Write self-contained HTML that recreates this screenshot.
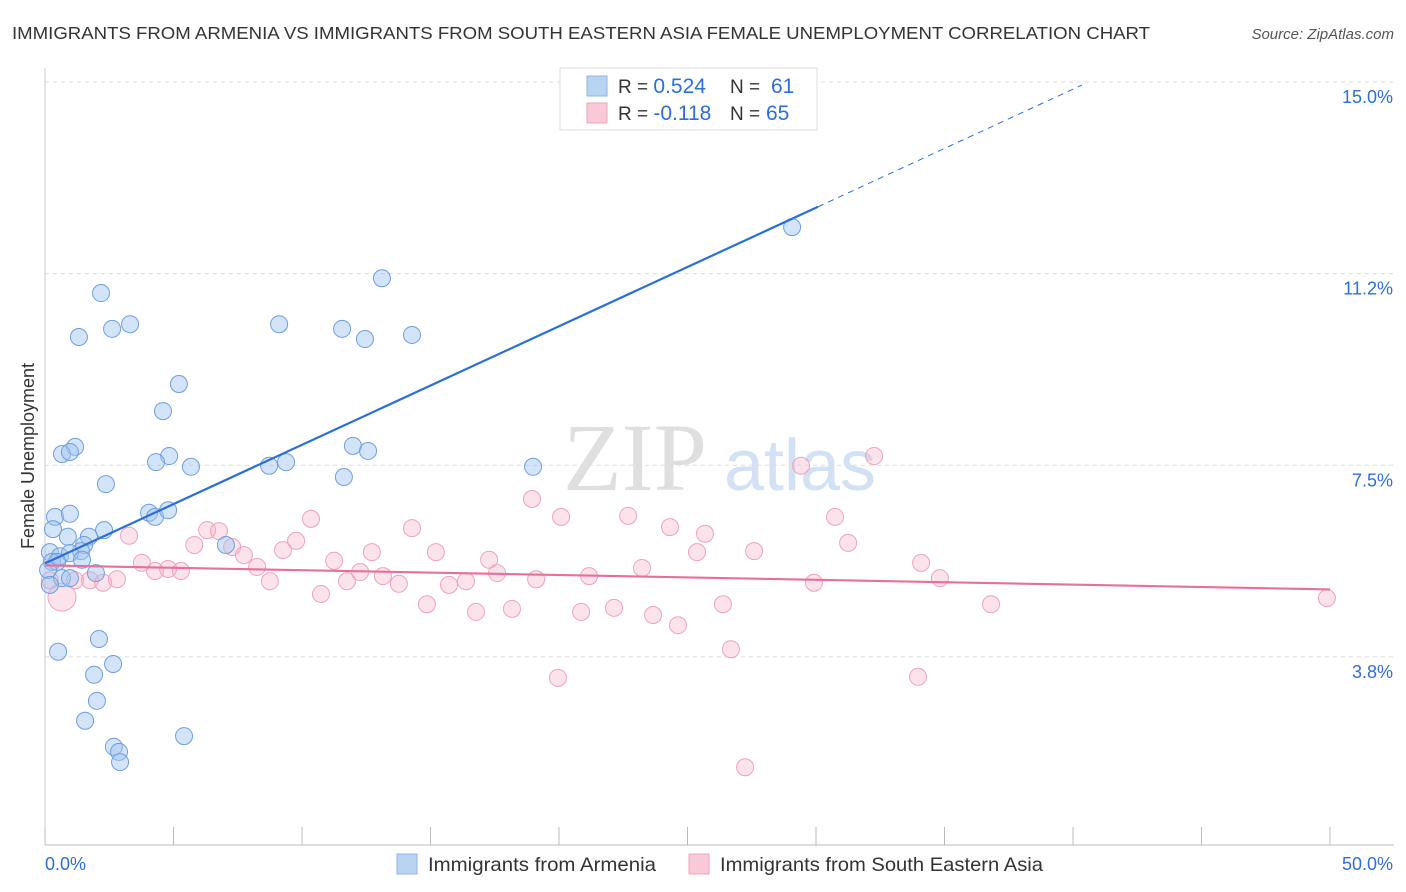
<!DOCTYPE html>
<html><head><meta charset="utf-8">
<style>
body{margin:0;background:#fff;font-family:"Liberation Sans",sans-serif;}
#wrap{position:relative;width:1406px;height:892px;overflow:hidden;}
</style></head>
<body>
<div id="wrap">
<svg id="chart" width="1406" height="892" xmlns="http://www.w3.org/2000/svg">
<text x="12" y="39" font-size="17.5" fill="#333" textLength="1138" lengthAdjust="spacingAndGlyphs">IMMIGRANTS FROM ARMENIA VS IMMIGRANTS FROM SOUTH EASTERN ASIA FEMALE UNEMPLOYMENT CORRELATION CHART</text>
<text x="1394" y="39" font-size="15" fill="#555" font-style="italic" text-anchor="end">Source: ZipAtlas.com</text>
<g opacity="0.8">
<text x="635" y="490" font-family="Liberation Serif,serif" font-size="96" fill="#d8d8d8" text-anchor="middle">ZIP</text>
<text x="800" y="490" font-size="72" fill="#c8dcf2" text-anchor="middle">atlas</text>
</g>
<g id="grid"></g>
<g id="axes"></g>
<g id="marks"></g>
<text transform="translate(34,456) rotate(-90)" font-size="18" fill="#333" text-anchor="middle">Female Unemployment</text>
<g>
<rect x="560" y="68" width="257" height="62" fill="#fff" stroke="#ddd"/>
<rect x="587" y="76" width="20" height="20" fill="#b9d3f3" stroke="#8fb4e6"/>
<rect x="587" y="103" width="20" height="20" fill="#f9c9d7" stroke="#f0a6bc"/>
<text x="618" y="93" font-size="19" fill="#333">R = <tspan fill="#2d6fd6" font-size="21">0.524</tspan><tspan x="730">N = </tspan><tspan fill="#2d6fd6" x="771" font-size="21">61</tspan></text>
<text x="618" y="120" font-size="19" fill="#333">R = <tspan fill="#2d6fd6" font-size="21">-0.118</tspan><tspan x="730">N = </tspan><tspan fill="#2d6fd6" x="766" font-size="21">65</tspan></text>
</g>
<g>
<rect x="397" y="854" width="20" height="20" fill="#b9d3f3" stroke="#8fb4e6"/>
<text x="428" y="871" font-size="19.5" fill="#333" textLength="228" lengthAdjust="spacingAndGlyphs">Immigrants from Armenia</text>
<rect x="689" y="854" width="20" height="20" fill="#f9c9d7" stroke="#f0a6bc"/>
<text x="720" y="871" font-size="19.5" fill="#333" textLength="323" lengthAdjust="spacingAndGlyphs">Immigrants from South Eastern Asia</text>
</g>
</svg>
</div>
<script>
const yTicks=[15.0,11.25,7.5,3.75];
const yTickLabels=["15.0%","11.2%","7.5%","3.8%"];
const xTicks=[0,5,10,15,20,25,30,35,40,45,50];
const xEndLabels=["0.0%","50.0%"];
const armeniaX=[2.18,1.32,2.61,3.31,5.21,4.59,13.11,9.11,11.56,12.45,14.28,29.07,1.17,0.66,0.97,4.83,4.32,5.68,8.72,9.38,11.98,12.57,11.63,18.99,2.37,4.05,4.28,4.79,0.39,0.97,0.31,2.30,0.89,1.71,1.52,1.40,7.04,0.19,0.58,0.97,0.27,1.44,0.47,0.12,0.66,0.97,1.98,0.19,2.10,0.51,2.65,1.91,2.02,1.56,2.68,2.88,2.92,5.41];
const armeniaY=[10.87,10.01,10.17,10.26,9.09,8.56,11.16,10.26,10.17,9.97,10.05,12.16,7.86,7.72,7.76,7.68,7.56,7.47,7.49,7.56,7.88,7.78,7.27,7.47,7.13,6.57,6.49,6.62,6.49,6.55,6.25,6.23,6.10,6.10,5.94,5.82,5.94,5.80,5.72,5.78,5.61,5.65,5.61,5.45,5.29,5.29,5.39,5.16,4.10,3.85,3.61,3.40,2.89,2.50,1.99,1.89,1.69,2.20];
const seaX=[0.66,0.19,1.17,1.75,2.26,2.80,3.27,3.77,4.28,4.79,5.29,5.81,6.31,6.77,7.28,7.74,8.25,8.75,9.26,9.77,10.35,10.74,11.25,11.75,12.26,12.72,13.15,13.77,14.28,14.86,15.21,15.72,16.38,16.77,17.28,17.59,18.17,18.95,19.11,19.96,20.08,20.86,21.17,22.14,22.69,23.23,23.66,24.32,24.63,25.37,25.68,26.38,26.69,27.24,27.59,29.42,29.92,30.74,31.25,32.26,33.97,34.09,34.82,36.81,49.88];
const seaY=[4.92,5.25,5.25,5.25,5.20,5.27,6.12,5.59,5.43,5.47,5.43,5.94,6.23,6.21,5.90,5.74,5.51,5.23,5.84,6.02,6.45,4.98,5.63,5.23,5.41,5.80,5.33,5.18,6.27,4.78,5.80,5.16,5.23,4.63,5.65,5.39,4.69,6.84,5.27,3.34,6.49,4.63,5.33,4.71,6.51,5.49,4.57,6.29,4.37,5.80,6.16,4.78,3.90,1.59,5.82,7.49,5.20,6.49,5.98,7.68,3.36,5.59,5.29,4.78,4.90];
const armeniaTrend=[5.58,0.232];
const seaTrend=[5.54,-0.0094];

const NS="http://www.w3.org/2000/svg";
const X=v=>45+v*1285/50;
const Y=v=>82+(15-v)*51.1;
function mk(tag,attrs,parent){const e=document.createElementNS(NS,tag);for(const k in attrs)e.setAttribute(k,attrs[k]);parent.appendChild(e);return e;}
const grid=document.getElementById('grid'),axes=document.getElementById('axes'),marks=document.getElementById('marks');
yTicks.forEach((t,i)=>{
 const l=mk('line',{x1:45,x2:1394,y1:Y(t),y2:Y(t),stroke:'#ddd','stroke-dasharray':'4,4'},grid);
 
 
 const tx=mk('text',{x:1393,y:Y(t)+21,'font-size':18,fill:'#2d6fd6','text-anchor':'end'},axes);
 tx.textContent=yTickLabels[i];
 
 
});
const ax=mk('line',{x1:45,x2:1394,y1:845,y2:845,stroke:'#bbb'},axes);


const ay=mk('line',{x1:45,x2:45,y1:68,y2:845,stroke:'#ccc'},axes);


xTicks.forEach(t=>{
 const l=mk('line',{x1:X(t),x2:X(t),y1:827,y2:845,stroke:'#bbb'},axes);
 
 
});
const xl0=mk('text',{x:45,y:870,'font-size':18,fill:'#2d6fd6'},axes);xl0.textContent=xEndLabels[0];


const xl1=mk('text',{x:1393,y:870,'font-size':18,fill:'#2d6fd6','text-anchor':'end'},axes);xl1.textContent=xEndLabels[1];



seaX.forEach((x,i)=>{
 const c=mk('circle',{cx:X(x),cy:Y(seaY[i]),r:i===0?14:8.5,fill:'rgba(246,176,198,0.35)',stroke:'#eea3bb','stroke-width':1},marks);
 
 
});
armeniaX.forEach((x,i)=>{
 const c=mk('circle',{cx:X(x),cy:Y(armeniaY[i]),r:8.5,fill:'rgba(160,196,240,0.45)',stroke:'#6e9edf','stroke-width':1},marks);
 
 
});
const at=v=>armeniaTrend[0]+armeniaTrend[1]*v;
const l1=mk('line',{x1:X(0),y1:Y(at(0)),x2:X(30.08),y2:Y(at(30.08)),stroke:'#2a6fd8','stroke-width':2.2},marks);


const l2=mk('line',{x1:X(30.08),y1:Y(at(30.08)),x2:X(40.35),y2:Y(at(40.35)),stroke:'#2a6fd8','stroke-width':1,'stroke-dasharray':'6,5'},marks);


const st=v=>seaTrend[0]+seaTrend[1]*v;
const l3=mk('line',{x1:X(0),y1:Y(st(0)),x2:X(50),y2:Y(st(50)),stroke:'#e7709a','stroke-width':2.2},marks);


</script>
</body></html>
